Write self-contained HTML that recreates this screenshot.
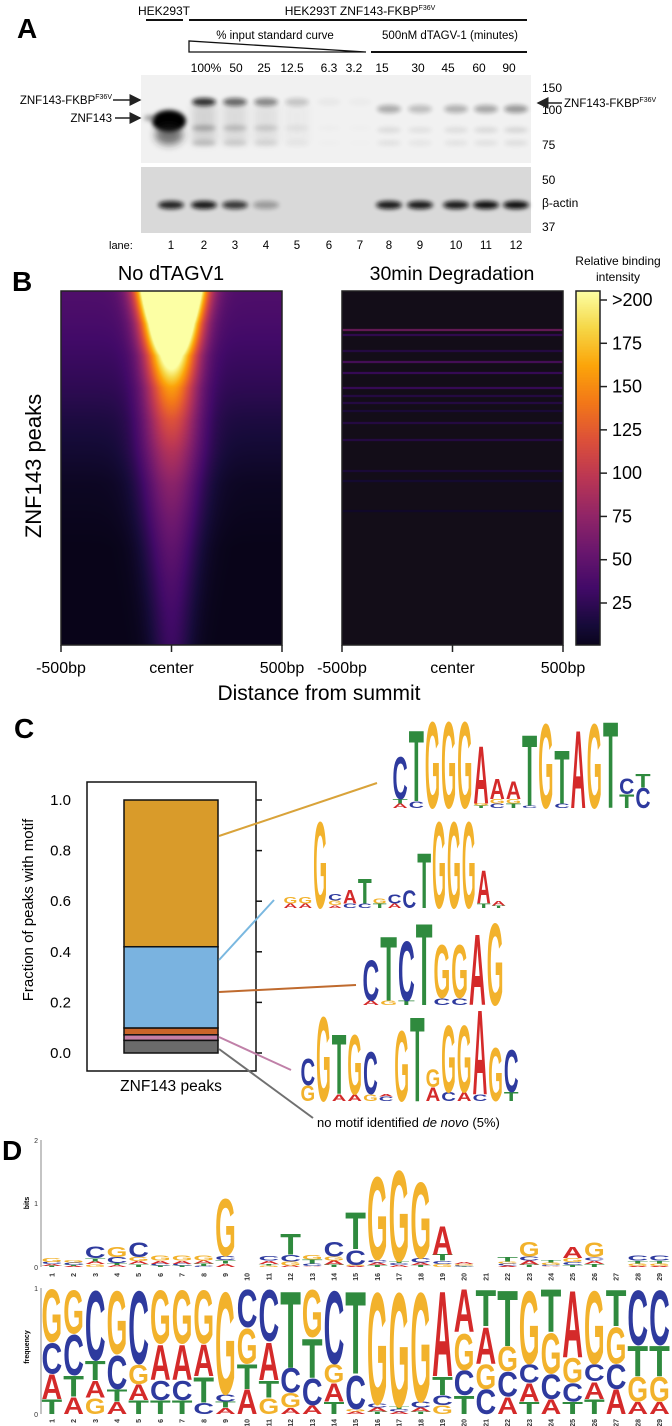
<!DOCTYPE html>
<html><head><meta charset="utf-8">
<style>
html,body{margin:0;padding:0;background:#fff;}
#wrap{position:relative;width:672px;height:1426px;overflow:hidden;font-family:"Liberation Sans",Arial,sans-serif;}
canvas{position:absolute;}
#main{position:absolute;left:0;top:0;}
</style></head>
<body>
<div id="wrap">
<canvas id="hm1" width="221" height="354" style="left:61px;top:291px"></canvas>
<canvas id="hm2" width="221" height="354" style="left:342px;top:291px"></canvas>
<canvas id="cbar" width="24" height="354" style="left:576px;top:291px"></canvas>
<svg id="main" width="672" height="1426" xmlns="http://www.w3.org/2000/svg" font-family="Liberation Sans, Arial, sans-serif">
<defs>
<filter id="blur2" x="-50%" y="-200%" width="200%" height="500%"><feGaussianBlur stdDeviation="2"/></filter>
<filter id="blur4" x="-50%" y="-100%" width="200%" height="300%"><feGaussianBlur stdDeviation="4"/></filter>
<marker id="arr" markerWidth="8" markerHeight="8" refX="7" refY="4" orient="auto"><path d="M0,0 L8,4 L0,8 z" fill="#222"/></marker>
</defs>

<g>
<text x="17" y="38" font-size="28" font-weight="bold">A</text>
<text x="164" y="15" font-size="12" text-anchor="middle">HEK293T</text>
<line x1="146" y1="20" x2="183" y2="20" stroke="#111" stroke-width="2"/>
<text x="360" y="15" font-size="12" text-anchor="middle">HEK293T ZNF143-FKBP<tspan font-size="7" dy="-5">F36V</tspan></text>
<line x1="189" y1="20" x2="527" y2="20" stroke="#111" stroke-width="2"/>
<text x="275" y="39" font-size="11.5" text-anchor="middle">% input standard curve</text>
<path d="M189,52 L189,41 L366,52 Z" fill="none" stroke="#111" stroke-width="1.3"/>
<text x="450" y="39" font-size="11.5" text-anchor="middle">500nM dTAGV-1 (minutes)</text>
<line x1="371" y1="52" x2="527" y2="52" stroke="#111" stroke-width="2"/>
<g id="laneHeads" font-size="12" text-anchor="middle"></g>
<rect x="141" y="75" width="390" height="88" fill="#f1f1f1"/>
<rect x="141" y="167" width="390" height="66" fill="#d9d9d9"/>
<g id="bands"></g>
<g font-size="12">
<text x="542" y="92">150</text><text x="542" y="114">100</text><text x="542" y="149">75</text>
<text x="542" y="184">50</text><text x="542" y="207">β-actin</text><text x="542" y="231">37</text>
</g>
<text x="112" y="104" font-size="11.5" text-anchor="end">ZNF143-FKBP<tspan font-size="7" dy="-5">F36V</tspan></text>
<line x1="113" y1="100" x2="140" y2="100" stroke="#222" stroke-width="1.5" marker-end="url(#arr)"/>
<text x="112" y="122" font-size="11.5" text-anchor="end">ZNF143</text>
<line x1="115" y1="118" x2="140" y2="118" stroke="#222" stroke-width="1.5" marker-end="url(#arr)"/>
<line x1="562" y1="103" x2="538" y2="103" stroke="#222" stroke-width="1.5" marker-end="url(#arr)"/>
<text x="564" y="107" font-size="11.5">ZNF143-FKBP<tspan font-size="7" dy="-5">F36V</tspan></text>
<text x="109" y="249" font-size="11">lane:</text>
<g id="laneNums" font-size="11.5" text-anchor="middle"></g>
</g>

<g>
<text x="12" y="291" font-size="28" font-weight="bold">B</text>
<text x="171" y="280" font-size="20" text-anchor="middle">No dTAGV1</text>
<text x="452" y="280" font-size="19.5" text-anchor="middle">30min Degradation</text>
<rect x="61" y="291" width="221" height="354" fill="none" stroke="#222" stroke-width="1.5"/>
<rect x="342" y="291" width="221" height="354" fill="none" stroke="#222" stroke-width="1.5"/>
<rect x="576" y="291" width="24" height="354" fill="none" stroke="#222" stroke-width="1.5"/>
<text x="618" y="265" font-size="12" text-anchor="middle">Relative binding</text>
<text x="618" y="281" font-size="12" text-anchor="middle">intensity</text>
<g id="cbTicks" font-size="18"></g>
<text transform="translate(41,466) rotate(-90)" font-size="22" text-anchor="middle">ZNF143 peaks</text>
<g id="xTicksB" font-size="16" text-anchor="middle"></g>
<text x="319" y="700" font-size="21" text-anchor="middle">Distance from summit</text>
</g>

<g>
<text x="14" y="738" font-size="28" font-weight="bold">C</text>
<rect x="87" y="782" width="169" height="289" fill="none" stroke="#111" stroke-width="1.5"/>
<g id="barC"></g>
<g id="barTicks" font-size="15" text-anchor="end"></g>
<text transform="translate(33,910) rotate(-90)" font-size="15" text-anchor="middle">Fraction of peaks with motif</text>
<text x="171" y="1091" font-size="15.5" text-anchor="middle">ZNF143 peaks</text>
<g stroke-width="2">
<line x1="219" y1="836" x2="377" y2="783" stroke="#d9a33a"/>
<line x1="219" y1="960" x2="274" y2="900" stroke="#7ab8e0"/>
<line x1="219" y1="992" x2="356" y2="985" stroke="#bf6a2e"/>
<line x1="219" y1="1037" x2="291" y2="1070" stroke="#c080a8"/>
<line x1="219" y1="1049" x2="313" y2="1118" stroke="#707070"/>
</g>
<text x="317" y="1127" font-size="13">no motif identified <tspan font-style="italic">de novo</tspan> (5%)</text>
<g id="logosC"></g>
</g>

<g>
<text x="2" y="1160" font-size="28" font-weight="bold">D</text>
<line x1="41" y1="1140" x2="41" y2="1267" stroke="#888" stroke-width="1"/>
<line x1="41" y1="1288" x2="41" y2="1414" stroke="#888" stroke-width="1"/>
<g font-size="7" text-anchor="end" fill="#333">
<text x="38" y="1143">2</text><text x="38" y="1206">1</text><text x="38" y="1270">0</text>
<text x="38" y="1291">1</text><text x="38" y="1417">0</text>
</g>
<text transform="translate(29,1203) rotate(-90)" font-size="7" font-weight="bold" text-anchor="middle">bits</text>
<text transform="translate(29,1347) rotate(-90)" font-size="7" font-weight="bold" text-anchor="middle">frequency</text>
<g id="logoD"></g>
</g>
</svg>
</div>
<script>
const laneHeaderLabels = ["100%","50","25","12.5","6.3","3.2","15","30","45","60","90"];
const laneNumbers = ["1","2","3","4","5","6","7","8","9","10","11","12"];
const fusionBandIntensity = [0, 0.85, 0.6, 0.45, 0.18, 0.03, 0.02, 0.3, 0.22, 0.28, 0.32, 0.38];
const actinBandIntensity = [0.9, 0.95, 0.8, 0.3, 0, 0, 0, 0.95, 0.95, 0.95, 1, 1];
const colorbarTicks = [">200","175","150","125","100","75","50","25"];
const colorbarTickValues = [200,175,150,125,100,75,50,25];
const xTickLabels = ["-500bp","center","500bp"];
const xTickBp = [-500, 0, 500];
const peakAmp   = [3.0, 1.8, 1.0, 0.65, 0.5, 0.4, 0.33, 0.28, 0.24, 0.2, 0.17, 0.15];
const peakWidthBp = [120, 115, 115, 120, 130, 140, 140, 135, 125, 115, 105, 95];
const flankLevel = [0.24, 0.22, 0.19, 0.16, 0.12, 0.09, 0.06, 0.05, 0.04, 0.04, 0.04, 0.04];
const stripeRow = [0.108, 0.122, 0.167, 0.198, 0.229, 0.271, 0.294, 0.314, 0.336, 0.370, 0.418, 0.506, 0.534, 0.62];
const stripeVal = [0.35, 0.18, 0.15, 0.25, 0.2, 0.2, 0.15, 0.15, 0.12, 0.15, 0.15, 0.12, 0.1, 0.08];
const motifNames = ["none","motif4","motif3","motif2","motif1"];
const motifFrac = [0.05, 0.022, 0.027, 0.321, 0.58];
const barTickValues = [0,0.2,0.4,0.6,0.8,1.0];
const barTickLabels = ["0.0","0.2","0.4","0.6","0.8","1.0"];
const freqA = [.2,.14,.14,.1,.13,.29,.29,.26,.05,.2,.31,.05,.07,.15,.02,.03,.02,.03,.7,.35,.3,.14,.15,.12,.55,.14,.2,.1,.1];
const freqC = [.25,.33,.57,.28,.6,.16,.16,.09,.06,.31,.42,.2,.22,.6,.28,.03,.02,.05,.08,.2,.2,.2,.15,.2,.15,.14,.2,.45,.45];
const freqG = [.43,.36,.13,.52,.16,.44,.44,.44,.84,.29,.13,.12,.39,.15,.02,.92,.94,.9,.07,.3,.2,.2,.6,.33,.2,.6,.3,.2,.2];
const freqT = [.12,.17,.16,.1,.11,.11,.11,.21,.05,.2,.14,.63,.32,.1,.68,.02,.02,.02,.15,.15,.3,.46,.1,.35,.1,.12,.3,.25,.25];
const logo1 = [[["A",.1],["T",.1],["C",.95]],[["C",.15],["T",1.6]],[["G",1.95]],[["G",1.95]],[["G",1.95]],[["T",.05],["G",.05],["A",1.3]],[["C",.1],["G",.1],["A",.45]],[["T",.1],["G",.1],["A",.4]],[["C",.05],["T",1.6]],[["G",1.9]],[["C",.1],["T",1.2]],[["A",1.75]],[["G",1.9]],[["T",1.95]],[["T",.3],["C",.35]],[["C",.45],["T",.3]]];
const logo2 = [[["A",.1],["G",.15]],[["A",.1],["G",.15]],[["G",1.95]],[["A",.06],["G",.1],["C",.15]],[["C",.1],["A",.3]],[["C",.1],["T",.55]],[["T",.1],["G",.12]],[["A",.1],["C",.2]],[["C",.4]],[["T",1.25]],[["G",1.95]],[["G",1.95]],[["G",1.95]],[["T",.1],["A",.75]],[["T",.05],["A",.1]]];
const logo3 = [[["A",.1],["C",.9]],[["G",.1],["T",1.45]],[["T",.1],["C",1.35]],[["T",1.85]],[["C",.15],["G",1.2]],[["C",.15],["G",1.2]],[["A",1.6]],[["G",1.85]]];
const logo4 = [[["G",.35],["C",.6]],[["G",1.9]],[["A",.15],["T",1.35]],[["A",.15],["G",1.35]],[["G",.15],["C",.95]],[["C",.1],["A",.05]],[["G",1.6]],[["T",1.9]],[["A",.3],["G",.4]],[["C",.2],["G",1.5]],[["A",.2],["G",1.5]],[["C",.15],["A",1.9]],[["G",1.2]],[["T",.2],["C",.95]]];

const NS = "http://www.w3.org/2000/svg";
function el(tag, attrs, parent){const e=document.createElementNS(NS,tag);for(const k in attrs)e.setAttribute(k,attrs[k]);if(parent)parent.appendChild(e);return e;}
const COL = {A:"#d42a2a",C:"#2e3a9e",G:"#f2b22c",T:"#2f8a3e"};
const ADV = {A:72.2,C:72.2,G:77.8,T:61.1};
function letter(parent, ch, x, yb, w, h){
  if(h<0.6) return;
  const t=el("text",{x:0,y:0,"font-size":100,"font-weight":"bold",fill:COL[ch],
    transform:`translate(${x},${yb}) scale(${w/ADV[ch]},${h/72.5})`},parent);
  t.textContent=ch;
  
  
}
const INF=[[0,0,0,4],[.1,22,11,57],[.2,66,10,104],[.3,106,23,110],[.4,147,38,103],[.5,188,55,84],[.6,221,81,58],[.7,243,120,25],[.8,252,165,10],[.9,246,215,70],[1,252,255,164]];
function inferno(v){v=Math.max(0,Math.min(1,v));for(let i=1;i<INF.length;i++){if(v<=INF[i][0]){const a=INF[i-1],b=INF[i],f=(v-a[0])/(b[0]-a[0]);return [a[1]+f*(b[1]-a[1]),a[2]+f*(b[2]-a[2]),a[3]+f*(b[3]-a[3])];}}return [252,255,164];}
function interp(arr,t){const p=t*(arr.length-1),i=Math.floor(p),f=p-i;return i>=arr.length-1?arr[arr.length-1]:arr[i]*(1-f)+arr[i+1]*f;}

const headX = [206,236,264,292,329,354,382,418,448,479,509];
const laneX = [171,204,235,266,297,329,360,389,420,456,486,516];
laneHeaderLabels.forEach((s,i)=>{const t=el("text",{x:headX[i],y:72},document.getElementById("laneHeads"));t.textContent=s;
  
  });
laneNumbers.forEach((s,i)=>{const t=el("text",{x:laneX[i],y:249},document.getElementById("laneNums"));t.textContent=s;
  
  });
const bands=document.getElementById("bands");
el("ellipse",{cx:169,cy:121,rx:17,ry:11,fill:"#000",filter:"url(#blur2)"},bands);
el("ellipse",{cx:169,cy:135,rx:14,ry:10,fill:"#222",opacity:.6,filter:"url(#blur4)"},bands);
el("ellipse",{cx:150,cy:118,rx:6,ry:3,fill:"#555",opacity:.5,filter:"url(#blur2)"},bands);
fusionBandIntensity.forEach((v,i)=>{
  if(i===0) return;
  const b=el("ellipse",{cx:laneX[i],cy:i>=7?109:102,rx:12,ry:4,fill:"#111",opacity:v,filter:"url(#blur2)"},bands);
  
  
  el("ellipse",{cx:laneX[i],cy:i>=7?130:128,rx:12,ry:3,fill:"#333",opacity:v*0.35,filter:"url(#blur2)"},bands);
  el("ellipse",{cx:laneX[i],cy:143,rx:12,ry:3,fill:"#333",opacity:v*0.25,filter:"url(#blur2)"},bands);
  if(i<5) el("rect",{x:laneX[i]-12,y:104,width:24,height:40,fill:"#444",opacity:v*0.2,filter:"url(#blur4)"},bands);
});
actinBandIntensity.forEach((v,i)=>{
  if(v<=0) return;
  const b=el("ellipse",{cx:laneX[i],cy:205,rx:13,ry:4,fill:"#080808",opacity:v,filter:"url(#blur2)"},bands);
  
  
});

(function(){
  const c=document.getElementById("hm1"),ctx=c.getContext("2d"),W=c.width,H=c.height;
  const img=ctx.createImageData(W,H);
  for(let y=0;y<H;y++){
    const t=y/(H-1),A=interp(peakAmp,t),w=interp(peakWidthBp,t),bg=interp(flankLevel,t);
    for(let x=0;x<W;x++){
      const bp=(x-(W-1)/2)/((W-1)/2)*500;
      const v=A*Math.exp(-(bp/w)*(bp/w))+bg;
      const col=inferno(v*0.97);const k=(y*W+x)*4;
      img.data[k]=col[0];img.data[k+1]=col[1];img.data[k+2]=col[2];img.data[k+3]=255;
    }
  }
  ctx.putImageData(img,0,0);
  const c2=document.getElementById("hm2"),x2=c2.getContext("2d");
  x2.fillStyle="rgb(19,13,24)";x2.fillRect(0,0,c2.width,c2.height);
  stripeRow.forEach((r,i)=>{const col=inferno(stripeVal[i]);x2.fillStyle=`rgb(${col[0]|0},${col[1]|0},${col[2]|0})`;x2.globalAlpha=0.85;x2.fillRect(0,Math.round(r*c2.height),c2.width,2);});
  x2.globalAlpha=1;
  const cb=document.getElementById("cbar"),cx=cb.getContext("2d");
  for(let y=0;y<cb.height;y++){const v=0.05+0.95*(1-y/(cb.height-1));const col=inferno(v);cx.fillStyle=`rgb(${col[0]|0},${col[1]|0},${col[2]|0})`;cx.fillRect(0,y,cb.width,1);}
})();
function cbY(v){return 300+(200-v)*(603-300)/175;}
const cbT=document.getElementById("cbTicks");
colorbarTicks.forEach((s,i)=>{const y=cbY(colorbarTickValues[i]);
  el("line",{x1:600,y1:y,x2:607,y2:y,stroke:"#222","stroke-width":1.5},cbT);
  const t=el("text",{x:612,y:y+6},cbT);t.textContent=s;
  
  });
const xT=document.getElementById("xTicksB");
[[61,282],[342,563]].forEach(([a,b])=>{
  xTickLabels.forEach((s,i)=>{const x=a+(xTickBp[i]+500)/1000*(b-a);
    el("line",{x1:x,y1:645,x2:x,y2:652,stroke:"#222","stroke-width":1.5},xT);
    const t=el("text",{x:x,y:673},xT);t.textContent=s;
    
    });
});

function barY(v){return 1053-v*253;}
const barColors=["#6b6b6b","#c47fa7","#c9652a","#7ab3e0","#d99b2a"];
let cum=0;const barG=document.getElementById("barC");
motifFrac.forEach((f,i)=>{const r=el("rect",{x:124,y:barY(cum+f),width:94,height:f*253,fill:barColors[i],stroke:"#111","stroke-width":1.5},barG);
  
  cum+=f;});
const bt=document.getElementById("barTicks");
barTickValues.forEach((v,i)=>{const y=barY(v);
  el("line",{x1:256,y1:y,x2:262,y2:y,stroke:"#111","stroke-width":1.5},bt);
  const t=el("text",{x:71,y:y+5},bt);t.textContent=barTickLabels[i];
  
  });
function drawLogo(cols,x0,x1,base,perBit,parent){
  const w=(x1-x0)/cols.length;
  cols.forEach((col,i)=>{let y=base;col.forEach(([ch,b])=>{const h=b*perBit;letter(parent,ch,x0+i*w+0.5,y,w-1,h);y-=h;});});
}
const lc=document.getElementById("logosC");
[[logo1,392,651,808,'motif-logo-1'],[logo2,283,506,908,'motif-logo-2'],[logo3,362,504,1005,'motif-logo-3'],[logo4,300,519,1101,'motif-logo-4']].forEach(([L,a,b,base,name])=>{
  const g=el("g",{},lc);
  
  
  drawLogo(L,a,b,base,46,g);
});

const ld=document.getElementById("logoD");
const colW=21.7,x0D=41;
for(let i=0;i<freqA.length;i++){
  const f=[["A",freqA[i]],["C",freqC[i]],["G",freqG[i]],["T",freqT[i]]].sort((a,b)=>a[1]-b[1]);
  let H=0;f.forEach(([c,p])=>{if(p>0)H-=p*Math.log2(p);});
  const ic=Math.max(0,2-H);
  let y=1267;f.forEach(([c,p])=>{const h=p*ic*63.5;letter(ld,c,x0D+i*colW+0.5,y,colW-1,h);y-=h;});
  y=1414;f.forEach(([c,p])=>{const h=p*126;letter(ld,c,x0D+i*colW+0.5,y,colW-1,h);y-=h;});
  const cx=x0D+i*colW+colW/2;
  [1273,1419].forEach(yy=>{const t=el("text",{transform:`translate(${cx+2.5},${yy}) rotate(-90)`,"font-size":7,"font-weight":"bold","text-anchor":"end",fill:"#333"},ld);t.textContent=String(i+1);
    
    });
}
</script>
</body></html>
